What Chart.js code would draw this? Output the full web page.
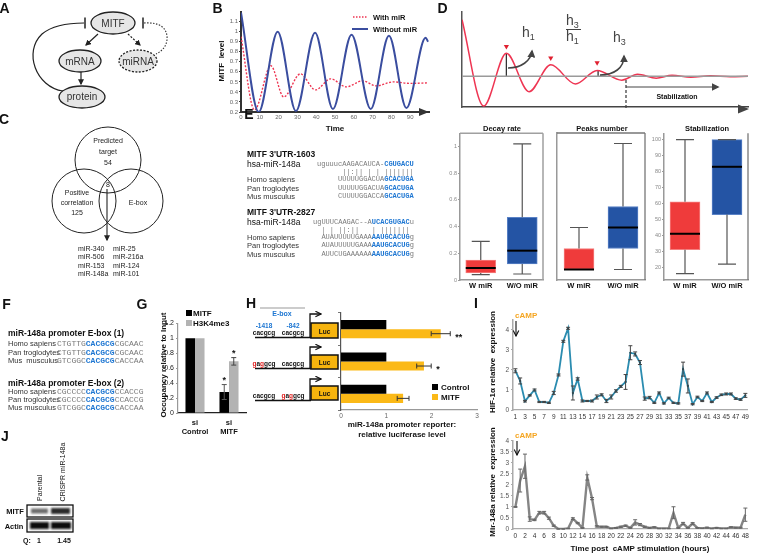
<!DOCTYPE html>
<html><head><meta charset="utf-8">
<script src="https://cdn.jsdelivr.net/npm/chart.js@4.4.1/dist/chart.umd.min.js"></script>
<style>
html,body{margin:0;padding:0;background:#fff}
body{width:757px;height:558px;position:relative;overflow:hidden;font-family:'Liberation Sans',Arial,sans-serif;color:#111}
.t{position:absolute;white-space:pre;line-height:1;z-index:6}
.bl{color:#1d76d2;font-weight:bold}
svg{position:absolute;left:0;top:0;z-index:5}
</style></head><body>
<svg width="757" height="558" xmlns="http://www.w3.org/2000/svg">
<defs>
<marker id="ah" viewBox="0 0 10 10" refX="8" refY="5" markerWidth="6" markerHeight="6" markerUnits="userSpaceOnUse" orient="auto"><path d="M0,0 L10,5 L0,10 z" fill="#222"/></marker>
<marker id="ahd" viewBox="0 0 10 10" refX="8" refY="5" markerWidth="8" markerHeight="8" markerUnits="userSpaceOnUse" orient="auto"><path d="M0,0 L10,5 L0,10 z" fill="#444"/></marker>
<marker id="aop" viewBox="0 0 10 10" refX="9" refY="5" markerWidth="7" markerHeight="7" markerUnits="userSpaceOnUse" orient="auto"><path d="M1,1 L9,5 L1,9" fill="none" stroke="#111" stroke-width="1.6"/></marker>
<filter id="blr" x="-30%" y="-60%" width="160%" height="220%"><feGaussianBlur stdDeviation="1.1"/></filter>
</defs>
<!-- Panel A -->
<path d="M63,91 C36,87 23,52 42,34 C53,25 70,23 84,23" fill="none" stroke="#222" stroke-width="1.2"/>
<line x1="85" y1="17.5" x2="85" y2="28.5" stroke="#222" stroke-width="1.5"/>
<path d="M144,23 C160,22 168,28 167,40 C166,47 162,51 156,54" fill="none" stroke="#333" stroke-width="1.1" stroke-dasharray="1.5,1.5"/>
<line x1="143" y1="17.5" x2="143" y2="28.5" stroke="#222" stroke-width="1.5"/>
<ellipse cx="113" cy="23" rx="22" ry="11" fill="#e6e6e6" stroke="#222" stroke-width="1.3"/>
<ellipse cx="80" cy="61" rx="21" ry="11" fill="#e6e6e6" stroke="#222" stroke-width="1.3"/>
<ellipse cx="138" cy="61" rx="19" ry="11" fill="#e6e6e6" stroke="#222" stroke-width="1.3" stroke-dasharray="2,1.5"/>
<ellipse cx="82" cy="97" rx="23" ry="11" fill="#e6e6e6" stroke="#222" stroke-width="1.3"/>
<line x1="98" y1="34" x2="86" y2="45" stroke="#222" stroke-width="1.2" marker-end="url(#ah)"/>
<line x1="128" y1="34" x2="140" y2="45" stroke="#222" stroke-width="1.2" stroke-dasharray="2,1.5" marker-end="url(#ah)"/>
<line x1="81" y1="72" x2="81" y2="84" stroke="#222" stroke-width="1.2" marker-end="url(#ah)"/>
<!-- Panel B extras -->
<polygon points="419,108 429,112 419,116" fill="#333"/>
<line x1="353" y1="17" x2="368" y2="17" stroke="#ee3552" stroke-width="1.5" stroke-dasharray="1.5,1.5"/>
<line x1="352" y1="29" x2="368" y2="29" stroke="#3a4d9f" stroke-width="2"/>
<!-- Panel C -->
<circle cx="108" cy="160" r="33" fill="none" stroke="#222" stroke-width="1"/>
<circle cx="84" cy="201" r="32" fill="none" stroke="#222" stroke-width="1"/>
<circle cx="131" cy="201" r="32" fill="none" stroke="#222" stroke-width="1"/>
<line x1="107" y1="189" x2="107" y2="240" stroke="#222" stroke-width="1.1" marker-end="url(#ah)"/>
<!-- Panel D schematic extras -->
<polygon points="738,104.5 749,109 738,113.5" fill="#444"/>
<path d="M508,68 C521,68 531,61 532,51" fill="none" stroke="#444" stroke-width="1.6" marker-end="url(#ahd)"/>
<path d="M600,75 C614,75 624,68 624,56" fill="none" stroke="#444" stroke-width="1.6" marker-end="url(#ahd)"/>
<line x1="626" y1="80" x2="626" y2="109" stroke="#444" stroke-width="1.3" stroke-dasharray="3,2"/>
<line x1="626" y1="87" x2="718" y2="87" stroke="#444" stroke-width="1.2" marker-end="url(#ahd)"/>
<line x1="566" y1="29.5" x2="581" y2="29.5" stroke="#444" stroke-width="1"/>
<!-- Panel G legend -->
<rect x="186" y="310" width="6" height="6" fill="#000"/>
<rect x="186" y="320" width="6" height="6" fill="#b3b3b3"/>
<!-- Panel H constructs -->
<line x1="260" y1="308" x2="305" y2="308" stroke="#999" stroke-width="1.2"/>
<line x1="255" y1="337.5" x2="311" y2="337.5" stroke="#111" stroke-width="1.5"/>
<polyline points="310,337 310,314 321,314" fill="none" stroke="#111" stroke-width="1.3" marker-end="url(#aop)"/>
<rect x="311" y="323" width="27" height="15" fill="#f6b40e" stroke="#111" stroke-width="1.5"/>
<line x1="255" y1="368.5" x2="311" y2="368.5" stroke="#111" stroke-width="1.5"/>
<polyline points="310,368 310,347 321,347" fill="none" stroke="#111" stroke-width="1.3" marker-end="url(#aop)"/>
<rect x="311" y="355" width="27" height="14" fill="#f6b40e" stroke="#111" stroke-width="1.5"/>
<line x1="255" y1="400.5" x2="311" y2="400.5" stroke="#111" stroke-width="1.5"/>
<polyline points="310,400 310,379 321,379" fill="none" stroke="#111" stroke-width="1.3" marker-end="url(#aop)"/>
<rect x="311" y="386" width="27" height="14" fill="#f6b40e" stroke="#111" stroke-width="1.5"/>
<rect x="432" y="384" width="6" height="6" fill="#000"/>
<rect x="432" y="394" width="6" height="6" fill="#fbb917"/>
<!-- Panel I arrows -->
<line x1="516" y1="321" x2="516" y2="336" stroke="#222" stroke-width="1.2" marker-end="url(#aop)"/>
<line x1="517" y1="441" x2="517" y2="455" stroke="#222" stroke-width="1.2" marker-end="url(#aop)"/>
<!-- Panel J blot -->
<rect x="27" y="505" width="46" height="12" fill="#fff" stroke="#111" stroke-width="1.3"/>
<rect x="27" y="519" width="46" height="13" fill="#fff" stroke="#111" stroke-width="1.3"/>
<rect x="31" y="508.5" width="17" height="5" fill="#6a6a6a" filter="url(#blr)"/>
<rect x="51" y="508" width="19" height="6" fill="#2a2a2a" filter="url(#blr)"/>
<rect x="30" y="522" width="19" height="7" fill="#111" filter="url(#blr)"/>
<rect x="51" y="522" width="20" height="7" fill="#111" filter="url(#blr)"/>
</svg>
<script>
// ================= DATA =================
// Panel B: simulated MITF level (turning points)
const bTimeWithout = [0, 9.4, 19.5, 29.2, 39.4, 48.9, 58.8, 69, 78.7, 88, 98.2, 99.5];
const bWithout     = [1.19, 0.2, 1.0, 0.21, 0.99, 0.23, 0.97, 0.23, 0.96, 0.24, 0.94, 0.9];
const bTimeWith    = [0, 7.2, 15.9, 22.7, 31.6, 39.6, 47.7, 56, 64.6, 72, 81, 90, 99.5];
const bWith        = [0.95, 0.22, 0.66, 0.35, 0.58, 0.42, 0.53, 0.45, 0.51, 0.46, 0.5, 0.485, 0.49];
// Panel D schematic damped oscillation
const dSchemX = [0, 22, 45, 68, 90, 115, 137, 162, 178, 197, 213, 232, 252, 272, 290];
const dSchemY = [91, 1, 56, 16, 44, 24, 38, 28, 34, 30, 33, 31, 32.5, 31.5, 32];
const dBaseY = 32;
const dPeakX = [45, 90, 137];
const dPeakY = [63, 51, 46];
// Panel D box plots
const boxGroups = ['W miR', 'W/O miR'];
const decayMin = [0.04, 0.045], decayQ1 = [0.053, 0.12], decayMed = [0.09, 0.22], decayQ3 = [0.15, 0.47], decayMax = [0.29, 1.02];
const peaksMin = [3, 3], peaksQ1 = [3, 4], peaksMed = [3, 5], peaksQ3 = [4, 6], peaksMax = [5, 9];
const stabMin = [16, 22], stabQ1 = [31, 53], stabMed = [41, 83], stabQ3 = [61, 100], stabMax = [100, 100];
// Panel G
const gGroups = [['si', 'Control'], ['si', 'MITF']];
const gMITF = [1, 0.28], gMITFErr = [0, 0.1], gMITFStars = ['', '*'];
const gH3 = [1, 0.69], gH3Err = [0, 0.05], gH3Stars = ['', '*'];
// Panel H
const hConstructs = ['WT', 'mut -1418', 'mut -842'];
const hControl = [1, 1, 1];
const hMITF = [2.2, 1.83, 1.37], hMITFErr = [0.21, 0.16, 0.13], hMITFStars = ['**', '*', ''];
// Panel I top: HIF-1a
const iHifHours = [1,2,3,4,5,6,7,8,9,10,11,12,13,14,15,16,17,18,19,20,21,22,23,24,25,26,27,28,29,30,31,32,33,34,35,36,37,38,39,40,41,42,43,44,45,46,47,48,49];
const iHifVals = [1.96,1.45,0.44,0.73,1.0,0.4,0.4,0.36,0.85,1.75,3.43,4.08,0.85,1.55,0.45,0.45,0.45,0.65,0.76,0.45,0.65,0.95,1.18,1.4,2.86,2.8,2.37,0.57,0.62,0.36,0.85,0.33,0.6,0.36,0.33,2.04,1.2,0.29,0.65,0.45,0.85,0.4,0.62,0.76,0.8,0.8,0.57,0.52,0.73];
const iHifErr  = [0.1,0.15,0.04,0.03,0.05,0.03,0.03,0.03,0.08,0.05,0.05,0.05,0.35,0.06,0.05,0.03,0.05,0.1,0.05,0.08,0.1,0.06,0.05,0.37,0.35,0.1,0.1,0.08,0.06,0.03,0.05,0.03,0.04,0.03,0.03,0.35,0.35,0.03,0.04,0.03,0.05,0.03,0.04,0.04,0.05,0.05,0.04,0.04,0.1];
// Panel I bottom: Mir-148a
const iMirHours = [0,1,2,3,4,5,6,7,8,9,10,11,12,13,14,15,16,17,18,19,20,21,22,23,24,25,26,27,28,29,30,31,32,33,34,35,36,37,38,39,40,41,42,43,44,45,46,47,48];
const iMirVals = [1.0,2.2,2.85,0.45,0.41,0.74,0.74,0.49,0.15,0.0,0.0,0.02,0.47,0.27,0.05,2.34,1.38,0.12,0.1,0.1,0.02,0.05,0.1,0.15,0.05,0.3,0.2,0.1,0.05,0.08,0.02,0.02,0.02,0.74,0.05,0.25,0.05,0.25,0.05,0.03,0.06,0.02,0.05,0.02,0.02,0.08,0.06,0.06,0.65];
const iMirErr  = [0.02,0.52,0.55,0.1,0.03,0.06,0.06,0.05,0.03,0.01,0.01,0.01,0.04,0.03,0.02,0.12,0.05,0.03,0.02,0.02,0.01,0.02,0.03,0.03,0.02,0.12,0.05,0.03,0.02,0.02,0.01,0.01,0.01,0.27,0.02,0.05,0.02,0.04,0.02,0.01,0.02,0.01,0.02,0.01,0.01,0.02,0.02,0.02,0.3];

// ================= HELPERS =================
const F = "'Liberation Sans', Arial, sans-serif";
const M = "'Liberation Mono','DejaVu Sans Mono',monospace";
Chart.defaults.font.family = F;
Chart.defaults.animation = false;
Chart.defaults.events = [];
Chart.defaults.plugins.legend.display = false;
Chart.defaults.plugins.tooltip.enabled = false;

const RED = '#ef3b3b', REDB = '#f57f7f', BLUE = '#2454a4', BLUEB = '#5a82c6';
const fmt = v => String(Math.round(v * 100) / 100);
const NOGRID = { display: false, drawTicks: false, tickLength: 0 };

const extras = {
  id: 'extras',
  afterDatasetsDraw(chart, args, o) {
    const ctx = chart.ctx, ca = chart.chartArea;
    const horiz = chart.options.indexAxis === 'y';
    const vS = horiz ? chart.scales.x : chart.scales.y;
    chart.data.datasets.forEach((ds, di) => {
      const meta = chart.getDatasetMeta(di);
      if (ds.box) {
        const bx = ds.box;
        meta.data.forEach((el, i) => {
          const x = el.x, w = el.width, cap = 9;
          const q = ds.data[i];
          const yMin = vS.getPixelForValue(bx.min[i]), yMax = vS.getPixelForValue(bx.max[i]);
          const yQ1 = vS.getPixelForValue(q[0]), yQ3 = vS.getPixelForValue(q[1]);
          const yMed = vS.getPixelForValue(bx.med[i]);
          ctx.save();
          ctx.strokeStyle = '#555'; ctx.lineWidth = 1.2;
          ctx.beginPath();
          ctx.moveTo(x, yQ3); ctx.lineTo(x, yMax); ctx.moveTo(x, yQ1); ctx.lineTo(x, yMin);
          ctx.moveTo(x - cap, yMax); ctx.lineTo(x + cap, yMax);
          ctx.moveTo(x - cap, yMin); ctx.lineTo(x + cap, yMin);
          ctx.stroke();
          ctx.strokeStyle = '#000'; ctx.lineWidth = 2;
          ctx.beginPath(); ctx.moveTo(x - w / 2, yMed); ctx.lineTo(x + w / 2, yMed); ctx.stroke();
          ctx.restore();
        });
      }
      if (ds.errors) {
        ctx.save(); ctx.strokeStyle = ds.errorColor || '#333'; ctx.lineWidth = ds.errorWidth || 1;
        meta.data.forEach((el, i) => {
          const e = ds.errors[i]; if (!e) return;
          const v = ds.data[i];
          const a = vS.getPixelForValue(v - e), b = vS.getPixelForValue(v + e);
          const c = horiz ? el.y : el.x, k = ds.errorCap || 2.5;
          ctx.beginPath();
          if (horiz) { ctx.moveTo(a, c); ctx.lineTo(b, c); ctx.moveTo(a, c - k); ctx.lineTo(a, c + k); ctx.moveTo(b, c - k); ctx.lineTo(b, c + k); }
          else { ctx.moveTo(c, a); ctx.lineTo(c, b); ctx.moveTo(c - k, a); ctx.lineTo(c + k, a); ctx.moveTo(c - k, b); ctx.lineTo(c + k, b); }
          ctx.stroke();
        });
        ctx.restore();
      }
      if (ds.stars) {
        ctx.save(); ctx.fillStyle = '#111'; ctx.font = 'bold 9px ' + F; ctx.textBaseline = 'alphabetic';
        ctx.textAlign = horiz ? 'left' : 'center';
        meta.data.forEach((el, i) => {
          const s = ds.stars[i]; if (!s) return;
          const v = ds.data[i] + (ds.errors ? ds.errors[i] : 0);
          const p = vS.getPixelForValue(v);
          if (horiz) ctx.fillText(s, p + 5, el.y + 6); else ctx.fillText(s, el.x, p - 1.5);
        });
        ctx.restore();
      }
    });
    if (o && o.frame) {
      ctx.save(); ctx.strokeStyle = o.frame.color; ctx.lineWidth = o.frame.width;
      ctx.beginPath();
      if (o.frame.top !== false) { ctx.moveTo(ca.left, ca.top); ctx.lineTo(ca.right, ca.top); }
      ctx.moveTo(ca.right, ca.top); ctx.lineTo(ca.right, ca.bottom);
      ctx.stroke(); ctx.restore();
    }
  }
};

function mkChart(area, pad, cfg) {
  const c = document.createElement('canvas');
  const L = area.l - pad.yw, Tp = area.t - pad.top;
  const W = Math.round(area.r + pad.right - L), H = Math.round(area.b + pad.xh - Tp);
  c.width = W; c.height = H;
  c.style.cssText = `position:absolute;left:${L}px;top:${Tp}px;width:${W}px;height:${H}px;z-index:2`;
  document.body.appendChild(c);
  cfg.options = cfg.options || {};
  cfg.options.responsive = false;
  cfg.options.maintainAspectRatio = false;
  cfg.options.devicePixelRatio = 1;
  cfg.options.layout = { padding: { left: 0, top: pad.top, right: pad.right, bottom: 0 } };
  cfg.options.scales.x.afterFit = s => { s.height = pad.xh; };
  cfg.options.scales.y.afterFit = s => { s.width = pad.yw; };
  cfg.plugins = [extras];
  return new Chart(c, cfg);
}
const keepSteps = (step, lo, hi) => s => { s.ticks = s.ticks.filter(t => Math.abs(t.value / step - Math.round(t.value / step)) < 1e-6 && t.value >= lo - 1e-9 && t.value <= hi + 1e-9); };

function T(x, y, html, css, a, rot) {
  const d = document.createElement('div'); d.className = 't'; d.innerHTML = html;
  const tx = a === 'c' ? '-50%' : a === 'r' ? '-100%' : '0';
  d.style.cssText = `left:${x}px;top:${y}px;${css || ''};transform:translate(${tx},-50%)${rot ? ` rotate(${rot}deg)` : ''};`;
  document.body.appendChild(d);
}

// ================= CHARTS =================
// Panel B
mkChart({ l: 241, t: 11, r: 429, b: 112 }, { yw: 14, xh: 10, top: 4, right: 6 }, {
  type: 'line',
  data: { datasets: [
    { data: bTimeWithout.map((t, i) => ({ x: t, y: bWithout[i] })), borderColor: '#3a4d9f', borderWidth: 2, pointRadius: 0, cubicInterpolationMode: 'monotone' },
    { data: bTimeWith.map((t, i) => ({ x: t, y: bWith[i] })), borderColor: '#ee3552', borderWidth: 1.4, borderDash: [2, 1.6], pointRadius: 0, cubicInterpolationMode: 'monotone' }
  ] },
  options: { scales: {
    x: { type: 'linear', min: 0, max: 100, afterBuildTicks: keepSteps(10, 0, 90), ticks: { stepSize: 10, font: { size: 6 }, color: '#666', padding: 2, callback: fmt }, grid: NOGRID, border: { color: '#333', width: 2 } },
    y: { min: 0.2, max: 1.2, afterBuildTicks: keepSteps(0.1, 0.2, 1.1), ticks: { stepSize: 0.1, font: { size: 6 }, color: '#666', padding: 1, callback: fmt }, grid: { drawOnChartArea: false, tickLength: 2, color: '#333' }, border: { color: '#333', width: 2 } }
  } }
});

// Panel D schematic
mkChart({ l: 460, t: 10, r: 750, b: 109 }, { yw: 2, xh: 2, top: 2, right: 2 }, {
  type: 'line',
  data: { datasets: [
    { data: [{ x: 0, y: dBaseY }, { x: 290, y: dBaseY }], borderColor: '#9a9a9a', borderWidth: 1.5, pointRadius: 0 },
    { data: dSchemX.map((x, i) => ({ x, y: dSchemY[i] })), borderColor: '#ee3552', borderWidth: 1.5, pointRadius: 0, cubicInterpolationMode: 'monotone' },
    { data: [{ x: dPeakX[0], y: dBaseY }, { x: dPeakX[0], y: dSchemY[2] }], borderColor: '#333', borderWidth: 1.3, pointRadius: 0 },
    { data: [{ x: 138, y: dBaseY }, { x: 138, y: dSchemY[6] }], borderColor: '#333', borderWidth: 1.3, pointRadius: 0 },
    { data: dPeakX.map((x, i) => ({ x, y: dPeakY[i] })), showLine: false, pointStyle: 'triangle', pointRotation: 180, pointRadius: 3, pointBackgroundColor: '#e02030', pointBorderWidth: 0 }
  ] },
  options: { scales: {
    x: { type: 'linear', min: 0, max: 290, ticks: { display: false }, grid: NOGRID, border: { color: '#444', width: 1.5 } },
    y: { min: 0, max: 99, ticks: { display: false }, grid: NOGRID, border: { color: '#555', width: 1.5 } }
  } }
});

function boxChart(area, yw, mins, q1, med, q3, maxs, ymin, ymax, step, frame) {
  mkChart(area, { yw, xh: 10, top: 4, right: 2 }, {
    type: 'bar',
    data: { labels: boxGroups, datasets: [{
      data: q1.map((q, i) => [q, q3[i]]), backgroundColor: [RED, BLUE], borderColor: [REDB, BLUEB], borderWidth: 1, borderSkipped: false, barThickness: 30,
      box: { min: mins, med, max: maxs }
    }] },
    options: {
      scales: {
        x: { grid: NOGRID, border: { color: '#999', width: 1.5 }, ticks: { font: { size: 7.5, weight: 'bold' }, color: '#111', padding: 1 } },
        y: { min: ymin, max: ymax, afterBuildTicks: keepSteps(step, ymin, ymax), ticks: { stepSize: step, font: { size: 5.5 }, color: '#888', padding: 1, callback: fmt }, grid: { drawOnChartArea: false, tickLength: 2, color: '#999' }, border: { color: '#999', width: 1.5 } }
      },
      plugins: { extras: { frame } }
    }
  });
}
boxChart({ l: 460, t: 133, r: 543, b: 280 }, 14, decayMin, decayQ1, decayMed, decayQ3, decayMax, 0, 1.1, 0.2, { color: '#a0a0a0', width: 1.5 });
boxChart({ l: 557, t: 133, r: 645, b: 280 }, 10, peaksMin, peaksQ1, peaksMed, peaksQ3, peaksMax, 2.5, 9.5, 1, { color: '#777', width: 1.3 });
boxChart({ l: 664, t: 133, r: 748, b: 280 }, 14, stabMin, stabQ1, stabMed, stabQ3, stabMax, 12, 104, 10, { color: '#777', width: 1.3, top: false });

// Panel G
mkChart({ l: 178, t: 323, r: 246, b: 413 }, { yw: 18, xh: 26, top: 6, right: 2 }, {
  type: 'bar',
  data: { labels: gGroups, datasets: [
    { data: gMITF, errors: gMITFErr, stars: gMITFStars, backgroundColor: '#000', categoryPercentage: 0.56, barPercentage: 1, errorColor: '#555', errorCap: 2.5 },
    { data: gH3, errors: gH3Err, stars: gH3Stars, backgroundColor: '#b3b3b3', categoryPercentage: 0.56, barPercentage: 1, errorColor: '#444', errorCap: 2.5 }
  ] },
  options: { scales: {
    x: { grid: NOGRID, border: { color: '#222', width: 1.2 }, ticks: { font: { size: 7.5, weight: 'bold' }, color: '#111', padding: 5, maxRotation: 0, autoSkip: false } },
    y: { min: 0, max: 1.2, ticks: { stepSize: 0.2, font: { size: 7 }, color: '#222', padding: 2, callback: fmt }, grid: { drawOnChartArea: false, tickLength: 2, color: '#999' }, border: { color: '#999', width: 1.2 } }
  } }
});

// Panel H
mkChart({ l: 341, t: 313, r: 477, b: 410 }, { yw: 4, xh: 12, top: 2, right: 8 }, {
  type: 'bar',
  data: { labels: hConstructs, datasets: [
    { data: hControl, backgroundColor: '#000', categoryPercentage: 0.56, barPercentage: 1 },
    { data: hMITF, errors: hMITFErr, stars: hMITFStars, backgroundColor: '#fbb917', categoryPercentage: 0.56, barPercentage: 1, errorColor: '#333', errorCap: 2.5 }
  ] },
  options: { indexAxis: 'y', scales: {
    x: { min: 0, max: 3, ticks: { stepSize: 1, font: { size: 6.5 }, color: '#666', padding: 2, callback: fmt }, grid: NOGRID, border: { color: '#999', width: 1.2 } },
    y: { ticks: { display: false }, grid: { drawOnChartArea: false, offset: true, tickLength: 3, color: '#777' }, border: { color: '#555', width: 1.2 } }
  } }
});

// Panel I top
mkChart({ l: 513, t: 318, r: 748, b: 410 }, { yw: 14, xh: 10, top: 4, right: 4 }, {
  type: 'line',
  data: { labels: iHifHours, datasets: [
    { data: iHifVals, errors: iHifErr, borderColor: '#2b8cb0', borderWidth: 1.8, pointRadius: 1.1, pointBackgroundColor: '#1c4b5c', pointBorderWidth: 0, errorColor: '#444', errorCap: 2 }
  ] },
  options: { scales: {
    x: { offset: true, grid: NOGRID, border: { color: '#aaa', width: 1.2 }, ticks: { autoSkip: false, maxRotation: 0, font: { size: 6.5 }, color: '#333', padding: 3, callback: (v, i) => (i % 2 === 0 ? String(iHifHours[i]) : '') } },
    y: { min: 0, max: 4.5, ticks: { stepSize: 0.5, font: { size: 6.5 }, color: '#555', padding: 2, callback: fmt }, grid: { drawOnChartArea: false, tickLength: 2, color: '#aaa' }, border: { color: '#aaa', width: 1.5 } }
  } }
});

// Panel I bottom
mkChart({ l: 513, t: 439, r: 748, b: 529 }, { yw: 14, xh: 10, top: 4, right: 4 }, {
  type: 'line',
  data: { labels: iMirHours, datasets: [
    { data: iMirVals, errors: iMirErr, borderColor: '#858585', borderWidth: 2.4, pointRadius: 0, errorColor: '#666', errorCap: 2 }
  ] },
  options: { scales: {
    x: { offset: true, grid: NOGRID, border: { color: '#aaa', width: 1.2 }, ticks: { autoSkip: false, maxRotation: 0, font: { size: 6.5 }, color: '#333', padding: 3, callback: (v, i) => (i % 2 === 0 ? String(iMirHours[i]) : '') } },
    y: { min: 0, max: 4, ticks: { stepSize: 0.5, font: { size: 6.5 }, color: '#555', padding: 2, callback: fmt }, grid: { drawOnChartArea: false, tickLength: 2, color: '#aaa' }, border: { color: '#aaa', width: 1.5 } }
  } }
});

// ================= TEXT =================
const PL = `font:bold 14px ${F}`;
T(4.5, 8, 'A', PL, 'c'); T(217.5, 8, 'B', PL, 'c'); T(4, 119, 'C', PL, 'c'); T(442.5, 8, 'D', PL, 'c');
T(249, 114, 'E', PL, 'c'); T(6.5, 304, 'F', PL, 'c'); T(142, 304, 'G', PL, 'c'); T(251, 303, 'H', PL, 'c');
T(476, 303, 'I', PL, 'c'); T(5, 436, 'J', PL, 'c');
// A
const AF = `font:10px ${F};color:#333`;
T(113, 23, 'MITF', AF, 'c'); T(80, 61, 'mRNA', AF, 'c'); T(138, 61, 'miRNA', AF, 'c'); T(82, 96, 'protein', AF, 'c');
// B
T(221, 61, 'MITF  level', `font:bold 8px ${F}`, 'c', -90);
T(335, 128, 'Time', `font:bold 8px ${F}`, 'c');
T(373, 17, 'With miR', `font:bold 7.5px ${F}`);
T(373, 29, 'Without miR', `font:bold 7.5px ${F}`);
// C
const CF = `font:7px ${F};color:#222`;
T(108, 140, 'Predicted', CF, 'c'); T(108, 151, 'target', CF, 'c'); T(108, 162, '54', CF, 'c');
T(77, 192, 'Positive', CF, 'c'); T(77, 202, 'correlation', CF, 'c'); T(77, 212, '125', CF, 'c');
T(138, 202, 'E-box', CF, 'c'); T(108, 184, '8', CF, 'c');
['miR-340', 'miR-506', 'miR-153', 'miR-148a'].forEach((s, i) => T(78, 248 + i * 8.4, s, CF));
['miR-25', 'miR-216a', 'miR-124', 'miR-101'].forEach((s, i) => T(113, 248 + i * 8.4, s, CF));
// D
const DT = `font:bold 7.5px ${F}`;
T(502, 128, 'Decay rate', DT, 'c'); T(602, 128, 'Peaks number', DT, 'c'); T(707, 128, 'Stabilization', DT, 'c');
T(677, 96, 'Stabilization', `font:bold 7px ${F}`, 'c');
const HF = `font:14px ${F};color:#444`;
T(522, 33, 'h<sub style="font-size:9px">1</sub>', HF);
T(566, 21, 'h<sub style="font-size:9px">3</sub>', HF);
T(566, 37, 'h<sub style="font-size:9px">1</sub>', HF);
T(613, 38, 'h<sub style="font-size:9px">3</sub>', HF);
// E
const ET = `font:bold 8.5px ${F}`, EN = `font:8.5px ${F}`, ES = `font:7.5px ${F};color:#333`, EM = `font:7px ${M};color:#7a7a7a`;
T(247, 154, "MITF 3'UTR-1603", ET);
T(247, 164, 'hsa-miR-148a', EN);
T(317, 164, 'uguuucAAGACAUCA-<span class="bl">CGUGACU</span>', EM);
T(317, 172, '      ||:|| | | |||||||', EM);
T(247, 179, 'Homo sapiens', ES); T(317, 179, '     UUUUUGGACUA<span class="bl">GCACUGA</span>', EM);
T(247, 188, 'Pan troglodytes', ES); T(317, 188, '     UUUUUGGACUA<span class="bl">GCACUGA</span>', EM);
T(247, 196, 'Mus musculus', ES); T(317, 196, '     CUUUUGGACCA<span class="bl">GCACUGA</span>', EM);
T(247, 212, "MITF 3'UTR-2827", ET);
T(247, 222, 'hsa-miR-148a', EN);
T(313, 222, 'ugUUUCAAGAC--A<span class="bl">UCACGUGAC</span>u', EM);
T(313, 230, '  | | ||:||   | |||||||', EM);
T(247, 237, 'Homo sapiens', ES); T(313, 237, '  AUAUUUUUGAAA<span class="bl">AAUGCACUG</span>g', EM);
T(247, 245, 'Pan troglodytes', ES); T(313, 245, '  AUAUUUUUGAAA<span class="bl">AAUGCACUG</span>g', EM);
T(247, 254, 'Mus musculus', ES); T(313, 254, '  AUUCUGAAAAAA<span class="bl">AAUGCACUG</span>g', EM);
// F
const FM = `font:8px ${M};color:#7a7a7a`, FS = `font:7.5px ${F};color:#333`;
T(8, 333, 'miR-148a promoter E-box (1)', ET);
T(8, 343, 'Homo sapiens', FS); T(57, 343, 'CTGTTG<span class="bl">CACGCG</span>CGCAAC', FM);
T(8, 352, 'Pan troglodytes', FS); T(57, 352, 'CTGTTG<span class="bl">CACGCG</span>CGCAAC', FM);
T(8, 360, 'Mus  musculus', FS); T(57, 360, 'GTCGGC<span class="bl">CACGCG</span>CACCAA', FM);
T(8, 383, 'miR-148a promoter E-box (2)', ET);
T(8, 391, 'Homo sapiens', FS); T(57, 391, 'CGCCCC<span class="bl">CACGCG</span>CCACCG', FM);
T(8, 399, 'Pan troglodytes', FS); T(57, 399, 'CGCCCC<span class="bl">CACGCG</span>CCACCG', FM);
T(8, 407, 'Mus musculus', FS); T(57, 407, 'GTCGGC<span class="bl">CACGCG</span>CACCAA', FM);
// G
T(163, 365, 'Occupancy relative to Input', `font:bold 8px ${F}`, 'c', -90);
T(193, 313, 'MITF', `font:bold 8px ${F}`);
T(193, 323, 'H3K4me3', `font:bold 8px ${F}`);
// H
const HS = `font:bold 6.5px ${F}`, RD = '<span style="color:#e0201f">';
T(282, 313, 'E-box', `font:bold 7px ${F};color:#1d76d2`, 'c');
T(264, 325, '-1418', `${HS};color:#1d76d2`, 'c'); T(293, 325, '-842', `${HS};color:#1d76d2`, 'c');
T(264, 332, 'cacgcg', HS, 'c'); T(293, 332, 'cacgcg', HS, 'c');
T(264, 363, `${RD}g</span>a${RD}g</span>gcg`, HS, 'c'); T(293, 363, 'cacgcg', HS, 'c');
T(264, 395, 'cacgcg', HS, 'c'); T(293, 395, `${RD}g</span>a${RD}g</span>gcg`, HS, 'c');
T(324.5, 330.5, 'Luc', HS, 'c'); T(324.5, 362, 'Luc', HS, 'c'); T(324.5, 393, 'Luc', HS, 'c');
T(441, 387, 'Control', `font:bold 8px ${F}`); T(441, 397, 'MITF', `font:bold 8px ${F}`);
T(402, 424, 'miR-148a promoter reporter:', `font:bold 8px ${F}`, 'c');
T(402, 434, 'relative luciferase level', `font:bold 8px ${F}`, 'c');
// I
const CA = `font:bold 8px ${F};color:#f5a623`;
T(515, 315, 'cAMP', CA); T(515, 435, 'cAMP', CA);
T(492, 362, 'HIF-1α relative  expression', `font:bold 8px ${F}`, 'c', -90);
T(492, 482, 'Mir-148a relative  expression', `font:bold 8px ${F}`, 'c', -90);
T(640, 548, 'Time post  cAMP stimulation (hours)', `font:bold 8px ${F}`, 'c');
// J
T(38.5, 488, 'Parental', `font:7px ${F}`, 'c', -90);
T(62, 472, 'CRISPR miR-148a', `font:7px ${F}`, 'c', -90);
T(15, 511, 'MITF', `font:bold 7.5px ${F}`, 'c');
T(14, 525.5, 'Actin', `font:bold 7.5px ${F}`, 'c');
T(27, 540, 'Q:', `font:bold 7px ${F}`, 'c'); T(39, 540, '1', `font:bold 7px ${F}`, 'c'); T(64, 540, '1.45', `font:bold 7px ${F}`, 'c');
</script>
</body></html>
